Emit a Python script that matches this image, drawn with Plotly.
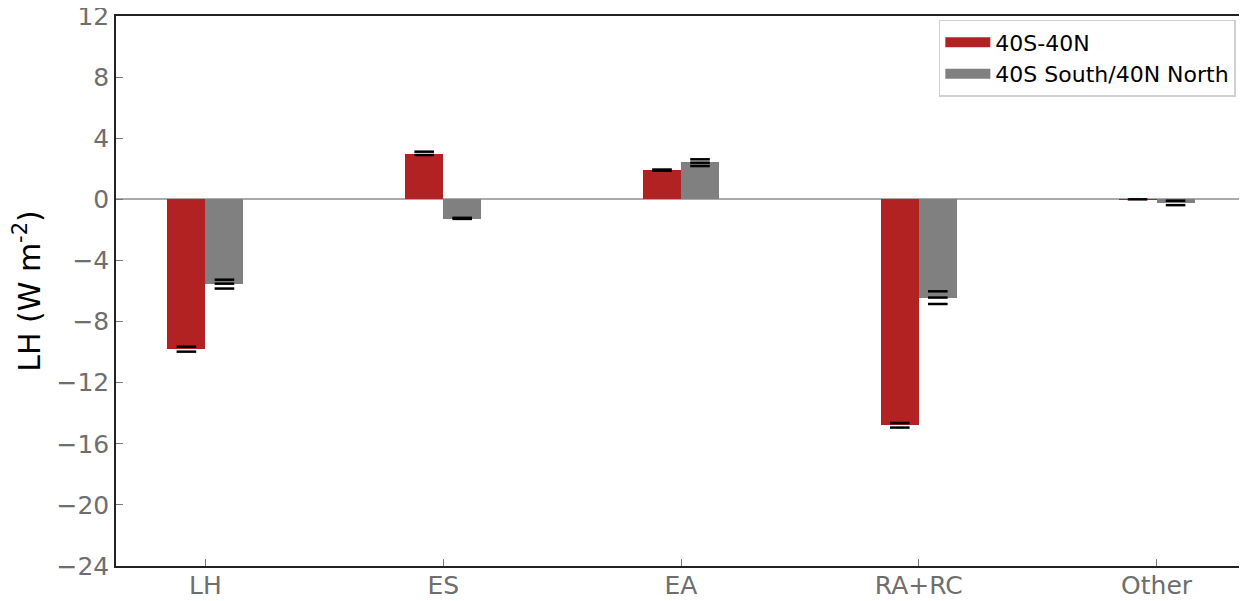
import plotly.graph_objects as go

categories = ["LH", "ES", "EA", "RA+RC", "Other"]
series_names = ["40S-40N", "40S South/40N North"]
red_values = [-9.82, 2.99, 1.90, -14.79, 0.02]
gray_values = [-5.56, -1.26, 2.44, -6.43, -0.27]
red_marks = [[-9.65, -9.97], [3.12, 2.90], [1.95, 1.87], [-14.64, -14.94], [0.0]]
gray_marks = [[-5.26, -5.52, -5.84], [-1.21, -1.28], [2.62, 2.40, 2.18], [-6.02, -6.43, -6.85], [-0.09, -0.38]]
y_ticks = [-24, -20, -16, -12, -8, -4, 0, 4, 8, 12]
y_ticktext = [("\u2212" + str(-v)) if v < 0 else str(v) for v in y_ticks]

RED = "#b22222"
GRAY = "#808080"
W = 0.16
xs = list(range(len(categories)))

fig = go.Figure()
fig.add_trace(go.Bar(x=xs, y=red_values, name=series_names[0], width=W, offset=-W,
                     showlegend=False, marker=dict(color=RED, line=dict(width=0))))
fig.add_trace(go.Bar(x=xs, y=gray_values, name=series_names[1], width=W, offset=0,
                     showlegend=False, marker=dict(color=GRAY, line=dict(width=0))))

mx, my = [], []
for i, ys in enumerate(red_marks):
    for v in ys:
        mx.append(i - W / 2); my.append(v)
for i, ys in enumerate(gray_marks):
    for v in ys:
        mx.append(i + W / 2); my.append(v)
fig.add_trace(go.Scatter(x=mx, y=my, mode="markers", showlegend=False, hoverinfo="skip",
                         marker=dict(symbol="line-ew", size=14,
                                     line=dict(color="black", width=2.5))))

# legend entries drawn as wide patches
for name, col in zip(series_names, [RED, GRAY]):
    fig.add_trace(go.Scatter(x=[None], y=[None], mode="lines", name=name,
                             line=dict(color=col, width=15)))

fig.update_layout(
    width=1239, height=593,
    margin=dict(l=108, r=1, t=8, b=35, autoexpand=False),
    paper_bgcolor="white", plot_bgcolor="white",
    font=dict(family="DejaVu Sans", color="#6e6e6e", size=25),
    showlegend=True,
    legend=dict(x=0.991, y=0.993, xanchor="right", yanchor="top",
                bgcolor="white", bordercolor="#d0d0d0", borderwidth=1.5,
                font=dict(size=22, color="black"), itemwidth=45,
                tracegroupgap=4),
    bargap=0,
)
fig.update_xaxes(range=[-0.376, 4.376], tickmode="array", tickvals=xs, ticktext=categories,
                 showline=True, linecolor="#222", linewidth=1.5, mirror=True,
                 ticks="inside", ticklen=7, tickcolor="#777", tickwidth=1,
                 ticklabelstandoff=-4, ticklabeloverflow="allow",
                 showgrid=False, zeroline=False)
fig.update_yaxes(range=[-24, 12], tickmode="array", tickvals=y_ticks, ticktext=y_ticktext,
                 showline=True, linecolor="#222", linewidth=1.5, mirror=True,
                 ticks="inside", ticklen=7, tickcolor="#777", tickwidth=1,
                 ticklabeloverflow="allow",
                 showgrid=False, zeroline=True, zerolinecolor="#aaaaaa", zerolinewidth=1.5,
                 title=dict(text="LH (W m<sup>-2</sup>)", font=dict(size=30, color="black"),
                            standoff=12))

fig.write_html("out.html")
